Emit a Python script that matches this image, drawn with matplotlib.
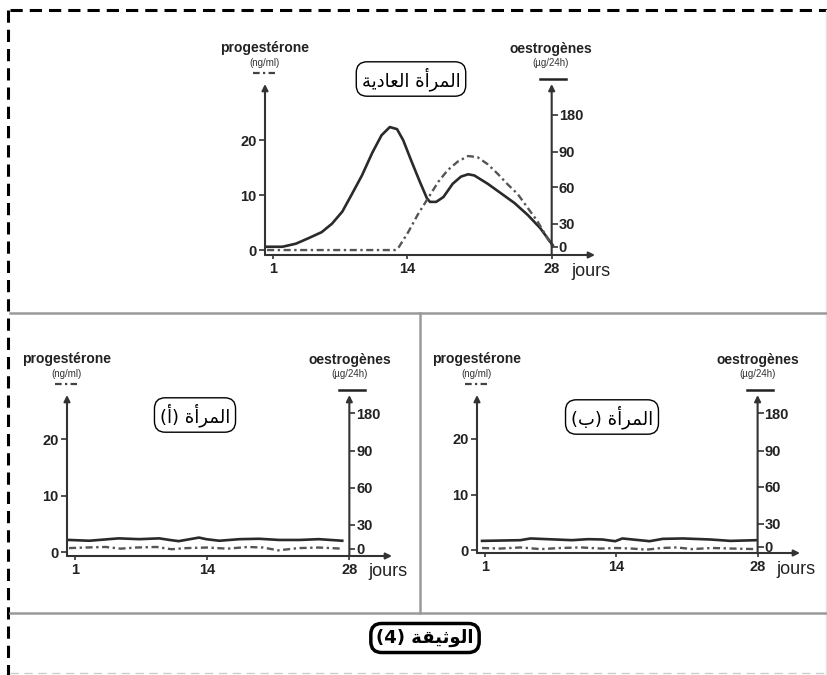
import numpy as np
import matplotlib
matplotlib.use('Agg')
import matplotlib.pyplot as plt

W, H = 828, 675

# ------ DONNEES ------
# jours du cycle
days_ticks = [1, 14, 28]
prog_ticks = [0, 10, 20]
# echelle des oestrogenes (dessinee a la main, non lineaire) : niveau de chaque
# graduation exprime en ng/ml sur l'axe de gauche
oest_scale = [0, 30, 60, 90, 180]
oest_scale_level = [0.6, 4.8, 11.4, 17.9, 24.6]

# femme normale
norm_oest_days = [0.4, 1.9, 3.2, 4.4, 5.7, 6.7, 7.7, 8.6, 9.6, 10.6, 11.5, 12.3, 13.0, 13.6, 14.4,
                  15.2, 15.9, 16.2, 16.8, 17.5, 18.4, 19.2, 19.9, 20.5, 21.8, 23.1, 24.4, 25.7, 26.9, 28.1]
norm_oest = [0, 0, 4, 11, 19, 30, 40, 54, 70, 89, 130, 150, 145, 118, 82,
             65, 51, 48, 48, 52, 63, 69, 71, 70, 63, 55, 47, 37, 24, 2]
norm_prog_days = [0.4, 4, 8, 12.8, 13.1, 14.1, 15.0, 16.0, 17.0, 17.9, 18.9, 19.9, 20.8, 21.8,
                  22.8, 23.7, 24.7, 25.7, 26.6, 27.6, 28.1]
norm_prog = [0, 0, 0, 0, 0.3, 3.3, 6.4, 9.4, 12.4, 14.5, 16.1, 17.1, 16.9, 15.6,
             13.8, 12.0, 10.2, 7.6, 5.3, 2.1, 0.6]

# femme A
a_oest_days = [0.4, 2.4, 4.3, 5.3, 7.3, 9.3, 10.3, 11.2, 13.2, 13.9, 15.2, 17.2, 19.1, 21.1, 23.1, 25.0, 27.3]
a_oest = [11, 10, 12, 13, 12, 13, 11, 9.5, 14, 12, 10, 12, 12.5, 11, 11, 12, 10]
a_prog_days = [0.4, 2, 4, 5.5, 7, 9, 10.5, 12, 14, 16, 18, 19.5, 21, 23, 25, 27.3]
a_prog = [0.7, 0.8, 0.9, 0.6, 0.8, 0.9, 0.5, 0.7, 0.8, 0.6, 0.9, 0.8, 0.3, 0.7, 0.8, 0.6]

# femme B
b_oest_days = [0.7, 4.5, 5.5, 7.2, 9.6, 11.2, 12.6, 13.9, 14.6, 15.3, 17.3, 18.6, 20.6, 23.3, 25.3, 27.9]
b_oest = [7.7, 8.6, 10.8, 9.9, 8.6, 9.9, 9.5, 7.3, 10.8, 9.9, 7.3, 10.3, 10.8, 9.5, 7.7, 8.6]
b_prog_days = [0.7, 2.5, 4.5, 6.5, 8.5, 10.5, 12.5, 14, 15.5, 17, 18.5, 20, 21.5, 23.5, 25.5, 27.8]
b_prog = [0.4, 0.3, 0.5, 0.2, 0.4, 0.5, 0.3, 0.4, 0.3, 0.1, 0.4, 0.5, 0.2, 0.4, 0.3, 0.2]

# textes arabes (formes de presentation, ordre visuel)
t_normal = '\ufe94\ufef3\ufea9\ufe8e\ufecc\ufedf\ufe8d \ufe93\ufe83\ufeae\ufee4\ufedf\ufe8d'  # المرأة العادية
t_a = '(\ufe83) \ufe93\ufe83\ufeae\ufee4\ufedf\ufe8d'  # المرأة (أ)
t_b = '(\ufe8f) \ufe93\ufe83\ufeae\ufee4\ufedf\ufe8d'  # المرأة (ب)
t_doc = '(4) \ufe94\ufed8\ufef4\ufe9b\ufeee\ufedf\ufe8d'  # الوثيقة (4)

LAT = ['Liberation Sans', 'DejaVu Sans']
INK = '#333333'

fig = plt.figure(figsize=(W / 100, H / 100), dpi=100)
bg = fig.add_axes([0, 0, 1, 1])
bg.set_xlim(0, W)
bg.set_ylim(H, 0)
bg.axis('off')

# cadre
bg.plot([10, 828], [10, 10], color='black', lw=2.2, dashes=(4, 2.3))
bg.plot([8, 8], [10, 675], color='black', lw=2.2, dashes=(4, 2.3))
bg.plot([10, 828], [673, 673], color='#cccccc', lw=1, dashes=(6, 4))
bg.plot([826, 826], [10, 675], color='#e2e2e2', lw=1)
bg.plot([10, 828], [313, 313], color='#9a9a9a', lw=1.8)
bg.plot([420, 420], [313, 613], color='#9a9a9a', lw=1.8)
bg.plot([10, 828], [613, 613], color='#9a9a9a', lw=1.8)


def draw_chart(box, ylim, oest_days, oest, prog_days, prog, title, title_xy):
    x0, y0, x1, y1, xr = box
    ax = fig.add_axes([x0 / W, 1 - y1 / H, (x1 - x0) / W, (y1 - y0) / H])
    ax.patch.set_alpha(0)
    ax.set_xlim(0.2, 32.2)
    ax.set_ylim(*ylim)
    for s in ax.spines.values():
        s.set_visible(False)
    arrow = dict(arrowstyle='-|>', lw=1.5, color=INK, mutation_scale=9, shrinkA=0, shrinkB=0)
    ax.annotate('', xy=(0, 1), xytext=(0, 0), xycoords='axes fraction', arrowprops=arrow)
    ax.annotate('', xy=(1, 0), xytext=(0, 0), xycoords='axes fraction', arrowprops=arrow)
    ax.annotate('', xy=(28, 1), xytext=(28, 0), xycoords=('data', 'axes fraction'), arrowprops=arrow)

    ax.set_xticks(days_ticks, labels=[str(d) for d in days_ticks])
    ax.set_yticks(prog_ticks, labels=[str(p) for p in prog_ticks])
    ax.tick_params(axis='y', length=4, width=1.2, color=INK, pad=2)
    ax.tick_params(axis='x', length=3, width=1.2, color=INK, pad=2)
    for lab in ax.get_xticklabels() + ax.get_yticklabels():
        lab.set_fontfamily(LAT)
        lab.set_fontweight('bold')
        lab.set_fontsize(10.5)
        lab.set_color('#222222')

    tw = ax.twinx()
    tw.set_ylim(*ylim)
    for s in tw.spines.values():
        s.set_visible(False)
    tw.spines['right'].set_position(('data', 28))
    tw.set_yticks(oest_scale_level, labels=[str(v) for v in oest_scale])
    tw.tick_params(axis='y', length=4, width=1.2, color=INK, pad=1)
    for lab in tw.get_yticklabels():
        lab.set_fontfamily(LAT)
        lab.set_fontweight('bold')
        lab.set_fontsize(10.5)
        lab.set_color('#222222')

    ax.plot(oest_days, np.interp(oest, oest_scale, oest_scale_level), color='#2a2a2a', lw=1.9,
            solid_joinstyle='round')
    ax.plot(prog_days, prog, color='#555555', lw=1.7, dashes=(3, 1.5, 1, 1.5))

    # legendes des axes
    bg.text(x0, y0 - 36, 'progestérone', ha='center', va='center', fontsize=10,
            fontweight='bold', family=LAT, color='#222222')
    bg.text(x0, y0 - 21, '(ng/ml)', ha='center', va='center', fontsize=7,
            family=LAT, color='#333333')
    bg.plot([x0 - 12, x0 + 10], [y0 - 11, y0 - 11], color='#444444', lw=1.6, dashes=(3, 1.5, 1, 1.5))
    bg.text(xr - 2, y0 - 35, 'oestrogènes', ha='center', va='center', fontsize=10,
            fontweight='bold', family=LAT, color='#222222')
    bg.text(xr - 2, y0 - 21, '(µg/24h)', ha='center', va='center', fontsize=7,
            family=LAT, color='#333333')
    bg.plot([xr - 13, xr + 13], [y0 - 5, y0 - 5], color='#222222', lw=1.8)
    bg.text(x1 - 4, y1 + 16, 'jours', ha='center', va='center', fontsize=13,
            family=LAT, color='#222222')

    bg.text(title_xy[0], title_xy[1], title, ha='center', va='center', fontsize=13,
            family='DejaVu Sans', color='black',
            bbox=dict(boxstyle='round,pad=0.3,rounding_size=0.6', fc='white', ec='black', lw=1))


draw_chart((265, 84, 595, 255, 553), (-0.9, 30.2), norm_oest_days, norm_oest,
           norm_prog_days, norm_prog, t_normal, (411, 79))
draw_chart((67, 395, 392, 556, 352), (-0.7, 27.8), a_oest_days, a_oest,
           a_prog_days, a_prog, t_a, (195, 415))
draw_chart((477, 395, 800, 553, 760), (-0.5, 27.9), b_oest_days, b_oest,
           b_prog_days, b_prog, t_b, (612, 417))

bg.text(425, 638, t_doc, ha='center', va='center', fontsize=13, fontweight='bold',
        family='DejaVu Sans', color='black',
        bbox=dict(boxstyle='round,pad=0.3,rounding_size=0.6', fc='white', ec='black', lw=2.5))

fig.savefig('out.png', dpi=100)
